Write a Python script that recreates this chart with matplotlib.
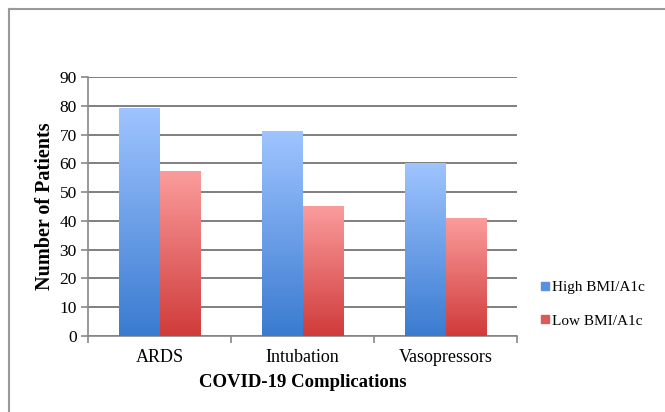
import numpy as np
import matplotlib
matplotlib.use("Agg")
import matplotlib.pyplot as plt
from matplotlib.colors import LinearSegmentedColormap
from matplotlib.lines import Line2D

categories = ["ARDS", "Intubation", "Vasopressors"]
high_bmi = [79, 71, 60]
low_bmi = [57, 45, 41]
series_names = ["High BMI/A1c", "Low BMI/A1c"]
yticks = [0, 10, 20, 30, 40, 50, 60, 70, 80, 90]

blue_cmap = LinearSegmentedColormap.from_list("b", ["#3a7bd0", "#9fc4ff"])
red_cmap = LinearSegmentedColormap.from_list("r", ["#d03b3b", "#fb9c9c"])

plt.rcParams['font.family'] = ['Liberation Serif', 'DejaVu Serif']

fig = plt.figure(figsize=(6.65, 4.12), dpi=100)
ax = fig.add_axes([88/665, 1-336/412, (517-88)/665, (336-77)/412])

x = np.arange(len(categories))
w = 0.28
grad = np.linspace(0, 1, 256).reshape(-1, 1)
for vals, off, cmap in [(high_bmi, -w/2, blue_cmap), (low_bmi, w/2, red_cmap)]:
    bars = ax.bar(x + off, vals, w, color="none", edgecolor="none", zorder=3)
    for b in bars:
        x0, y0 = b.get_x(), b.get_y()
        bw, bh = b.get_width(), b.get_height()
        ax.imshow(grad, cmap=cmap, origin="lower", aspect="auto",
                  extent=[x0, x0 + bw, y0, y0 + bh], zorder=3,
                  interpolation="bilinear")

ax.set_xlim(-0.5, len(categories) - 0.5)
ax.set_ylim(0, 90)
ax.set_yticks(yticks)
ax.set_yticklabels([str(t) for t in yticks], fontsize=12.5)
ax.set_xticks(x)
ax.set_xticklabels(categories, fontsize=13)
ax.set_xticks(np.arange(len(categories) + 1) - 0.5, minor=True)
ax.tick_params(axis="x", which="major", length=0, pad=9)
ax.tick_params(axis="x", which="minor", length=5, color="#888888", width=1.2)
ax.tick_params(axis="y", length=5, color="#888888", width=1.2, pad=3)
ax.yaxis.grid(True, color="#7f7f7f", linewidth=1.4, zorder=0)
ax.set_axisbelow(True)
for s in ["top", "right"]:
    ax.spines[s].set_visible(False)
for s in ["left", "bottom"]:
    ax.spines[s].set_color("#888888")
    ax.spines[s].set_linewidth(1.2)

ax.set_ylabel("Number of Patients", fontsize=14.5, fontweight="bold", labelpad=3)
ax.set_xlabel("COVID-19 Complications", fontsize=13.5, fontweight="bold", labelpad=6)

handles = [Line2D([], [], marker="s", linestyle="none", markersize=6,
                  markerfacecolor="#5a90e0", markeredgecolor="#5a90e0"),
           Line2D([], [], marker="s", linestyle="none", markersize=6,
                  markerfacecolor="#e05858", markeredgecolor="#e05858")]
fig.legend(handles, series_names, loc="center left", bbox_to_anchor=(525/665, 1-304/412),
           frameon=False, fontsize=11, handletextpad=0.1, labelspacing=1.3,
           handlelength=0.8)

# outer frame (left and top edges visible)
fig.add_artist(Line2D([9/665, 9/665], [0, 1-9/412], transform=fig.transFigure,
                      color="#9a9a9a", linewidth=1.5))
fig.add_artist(Line2D([9/665, 1], [1-9/412, 1-9/412], transform=fig.transFigure,
                      color="#9a9a9a", linewidth=1.5))

fig.savefig("out.png", dpi=100, facecolor="white")
